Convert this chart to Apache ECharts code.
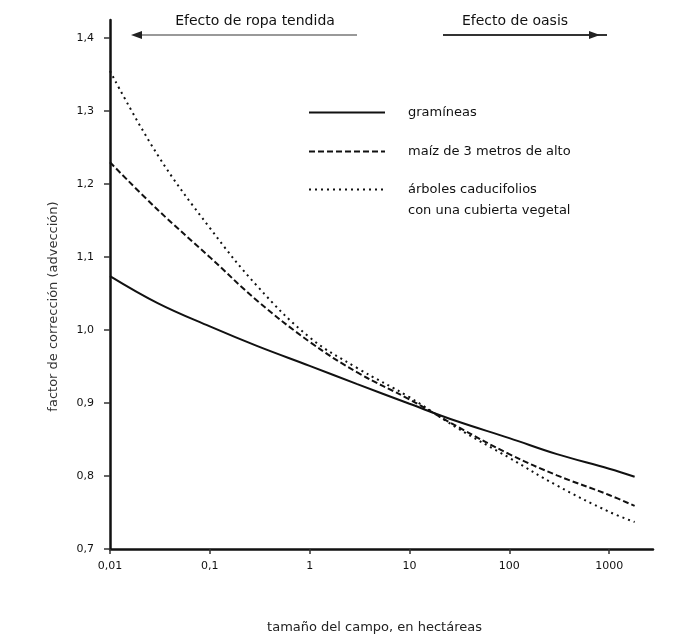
<!DOCTYPE html>
<html>
<head>
<meta charset="utf-8">
<script src="https://cdn.jsdelivr.net/npm/echarts@6/dist/echarts.min.js"></script>
<style>
  html, body { margin: 0; padding: 0; background: #fff; }
  #main { width: 699px; height: 642px; }
</style>
</head>
<body>
<div id="main"></div>
<script>
// tamaño del campo (ha), eje logarítmico
const fieldSizes = [0.01, 0.03, 0.1, 0.3, 1, 3, 10, 30, 100, 300, 1000, 1800];
const gramineas = [1.074, 1.037, 1.005, 0.978, 0.951, 0.926, 0.899, 0.875, 0.852, 0.83, 0.81, 0.799];
const maiz = [1.23, 1.165, 1.10, 1.04, 0.984, 0.942, 0.905, 0.868, 0.83, 0.801, 0.774, 0.759];
const arboles = [1.355, 1.24, 1.14, 1.06, 0.99, 0.948, 0.908, 0.866, 0.825, 0.787, 0.751, 0.737];

const xTicks = [0.01, 0.1, 1, 10, 100, 1000];
const yTicks = [0.7, 0.8, 0.9, 1.0, 1.1, 1.2, 1.3, 1.4];

const seriesNames = ['gramíneas', 'maíz de 3 metros de alto', 'árboles caducifolios'];

const font = 'DejaVu Sans';
const ink = '#111';

function pairs(ys) {
  return fieldSizes.map((x, i) => [x, ys[i]]);
}

function legendAt(name, top) {
  return {
    data: [name], orient: 'vertical', left: 308, top: top, padding: 0,
    itemWidth: 76, itemHeight: 14,
    itemStyle: { opacity: 0 },
    textStyle: { fontFamily: font, fontSize: 13, color: ink, padding: [0, 0, 0, 18] }
  };
}

const chart = echarts.init(document.getElementById('main'));

const option = {
  animation: false,
  backgroundColor: '#fff',
  textStyle: { fontFamily: font, color: ink },
  grid: { left: 110, right: 46, top: 20, bottom: 93 },
  legend: [
    legendAt(seriesNames[0], 106),
    legendAt(seriesNames[1], 145),
    legendAt(seriesNames[2], 183)
  ],
  xAxis: {
    type: 'log',
    logBase: 10,
    min: 0.01,
    max: 2750,
    name: 'tamaño del campo, en hectáreas',
    nameLocation: 'middle',
    nameGap: 72,
    nameTextStyle: { fontFamily: font, fontSize: 13, color: '#222', padding: [0, 14, 0, 0] },
    axisLine: { lineStyle: { color: ink, width: 2.5 } },
    axisTick: { customValues: xTicks, length: 5, lineStyle: { color: '#333', width: 1.5 } },
    axisLabel: {
      customValues: xTicks,
      margin: 12,
      fontFamily: font, fontSize: 11, color: ink,
      formatter: v => String(v).replace('.', ',')
    },
    splitLine: { show: false },
    minorTick: { show: false }
  },
  yAxis: {
    type: 'value',
    min: 0.7,
    max: 1.425,
    name: 'factor de corrección (advección)',
    nameLocation: 'middle',
    nameRotate: 90,
    nameGap: 50,
    nameTextStyle: { fontFamily: font, fontSize: 13, color: '#333', padding: [0, 44, 0, 0] },
    axisLine: { show: true, lineStyle: { color: ink, width: 2.5 } },
    axisTick: { show: true, customValues: yTicks, length: 6, lineStyle: { color: '#333', width: 1.5 } },
    axisLabel: {
      customValues: yTicks,
      margin: 16,
      fontFamily: font, fontSize: 11, color: ink,
      formatter: v => v.toFixed(1).replace('.', ',')
    },
    splitLine: { show: false }
  },
  series: [
    {
      name: seriesNames[0], type: 'line', data: pairs(gramineas),
      smooth: 0.4, symbol: 'none', color: ink,
      lineStyle: { color: ink, width: 2, type: 'solid' }
    },
    {
      name: seriesNames[1], type: 'line', data: pairs(maiz),
      smooth: 0.4, symbol: 'none', color: ink,
      lineStyle: { color: ink, width: 2, type: [6, 3] }
    },
    {
      name: seriesNames[2], type: 'line', data: pairs(arboles),
      smooth: 0.4, symbol: 'none', color: ink,
      lineStyle: { color: ink, width: 2, type: [2, 4] }
    }
  ],
  graphic: [
    {
      type: 'text', left: 408, top: 204,
      style: { text: 'con una cubierta vegetal', fontFamily: font, fontSize: 13, fill: ink }
    },
    {
      type: 'text', x: 255, y: 21,
      style: { text: 'Efecto de ropa tendida', fontFamily: font, fontSize: 14, fill: ink, align: 'center', verticalAlign: 'middle' }
    },
    {
      type: 'line', shape: { x1: 138, y1: 35, x2: 357, y2: 35 },
      style: { stroke: '#999', lineWidth: 2 }
    },
    {
      type: 'polygon', shape: { points: [[131, 35], [142, 31], [142, 39]] },
      style: { fill: '#222' }
    },
    {
      type: 'text', x: 515, y: 21,
      style: { text: 'Efecto de oasis', fontFamily: font, fontSize: 14, fill: ink, align: 'center', verticalAlign: 'middle' }
    },
    {
      type: 'line', shape: { x1: 443, y1: 35, x2: 607, y2: 35 },
      style: { stroke: '#333', lineWidth: 2 }
    },
    {
      type: 'polygon', shape: { points: [[600, 35], [589, 31], [589, 39]] },
      style: { fill: '#222' }
    }
  ]
};

chart.setOption(option);
</script>
</body>
</html>
